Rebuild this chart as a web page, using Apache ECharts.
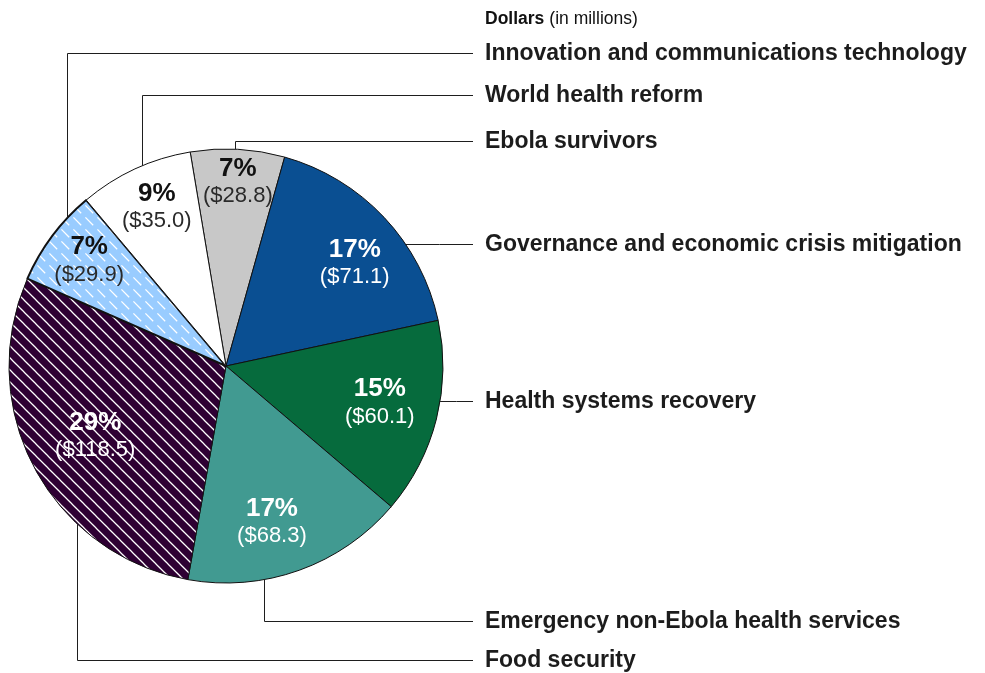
<!DOCTYPE html>
<html>
<head>
<meta charset="utf-8">
<script src="https://cdn.jsdelivr.net/npm/echarts@6/dist/echarts.min.js"></script>
<style>
  html, body { margin: 0; padding: 0; background: #ffffff; }
  #chart { width: 985px; height: 673px; }
</style>
</head>
<body>
<div id="chart"></div>
<script>
// Funding by area, clockwise from the top of the pie
const categories = [
  'Ebola survivors',
  'Governance and economic crisis mitigation',
  'Health systems recovery',
  'Emergency non-Ebola health services',
  'Food security',
  'Innovation and communications technology',
  'World health reform'
];
const dollars = [28.8, 71.1, 60.1, 68.3, 118.5, 29.9, 35.0];   // millions of dollars
const percents = [7, 17, 15, 17, 29, 7, 9];                     // share of total

// ---- layout and styling ----
const FONT = '"Liberation Sans", Arial, Helvetica, sans-serif';
const CX = 226, CY = 366, R = 217;
const START_ANGLE = 99.5;
const labelRadius = [185, 165, 158, 162, 148, 173, 174];   // distance of value labels from centre
const labelTurn = [0.6, 4.6, -0.8, 3.3, 0, 0.8, 1.3];       // clockwise nudge from mid-angle, degrees
const darkText = [true, false, false, false, false, true, true];
const rowY = [141, 244, 401, 621, 660, 53, 95];             // name rows on the right
const elbowX = [235, null, null, 264, 77, 67, 142];         // vertical leader position (null = straight across)
const LINE_END_X = 473, NAME_X = 485;

// diagonal "\" hatch tile; optional dash along each stroke
function hatch(bg, size, lineWidth, dash) {
  const c = document.createElement('canvas');
  c.width = c.height = size;
  const g = c.getContext('2d');
  g.fillStyle = bg;
  g.fillRect(0, 0, size, size);
  g.strokeStyle = '#ffffff';
  g.lineWidth = lineWidth;
  g.lineCap = 'butt';
  const s2 = Math.SQRT2;
  if (!dash) {
    for (const o of [-size, 0, size]) {
      g.beginPath();
      g.moveTo(o - 2, -2);
      g.lineTo(o + size + 2, size + 2);
      g.stroke();
    }
  } else {
    const [a, b] = dash;   // dash start/end along the diagonal, in px
    for (const k of [-1, 0, 1]) {
      g.beginPath();
      g.moveTo(a / s2 + k * size, a / s2 + k * size);
      g.lineTo(b / s2 + k * size, b / s2 + k * size);
      g.stroke();
    }
  }
  return { image: c, repeat: 'repeat' };
}

const fills = [
  '#c8c8c8',
  '#0a4f92',
  '#066b3d',
  '#419a91',
  hatch('#2e0033', 12, 1.25),
  hatch('#99ccff', 12, 1.3, [2, 13]),
  '#ffffff'
];

const chart = echarts.init(document.getElementById('chart'), null, { renderer: 'canvas' });

const valueSeries = {
  type: 'pie',
  center: [CX, CY],
  radius: R,
  startAngle: START_ANGLE,
  clockwise: true,
  silent: true,
  animation: false,
  avoidLabelOverlap: false,
  itemStyle: { borderColor: '#111111', borderWidth: 1 },
  data: categories.map((name, i) => ({
    name,
    value: dollars[i],
    itemStyle: { color: fills[i], borderWidth: i === 5 ? 2 : 1 }
  })),
  label: {
    show: true,
    position: 'inside',
    fontFamily: FONT,
    formatter: p => {
      const dark = darkText[p.dataIndex];
      return '{' + (dark ? 'pd' : 'pl') + '|' + percents[p.dataIndex] + '%}\n' +
             '{' + (dark ? 'dd' : 'dl') + '|($' + p.value.toFixed(1) + ')}';
    },
    rich: {
      pd: { fontFamily: FONT, fontSize: 26, fontWeight: 'bold', color: '#111111', lineHeight: 29, align: 'center' },
      dd: { fontFamily: FONT, fontSize: 22, color: '#2a2a2a', lineHeight: 26, align: 'center' },
      pl: { fontFamily: FONT, fontSize: 26, fontWeight: 'bold', color: '#ffffff', lineHeight: 29, align: 'center' },
      dl: { fontFamily: FONT, fontSize: 22, color: '#ffffff', lineHeight: 26, align: 'center' }
    }
  },
  labelLine: { show: false },
  labelLayout: p => {
    // push the default inside label outward along its slice, then turn it slightly
    const r = p.labelRect;
    const mx = r.x + r.width / 2 - CX;
    const my = r.y + r.height / 2 - CY;
    const a = Math.atan2(my, mx) + labelTurn[p.dataIndex] * Math.PI / 180;
    const d = labelRadius[p.dataIndex];
    return { x: CX + d * Math.cos(a), y: CY + d * Math.sin(a), align: 'center', verticalAlign: 'middle' };
  }
};

// transparent overlay carrying the category names and their leader lines
const nameSeries = {
  type: 'pie',
  center: [CX, CY],
  radius: R,
  startAngle: START_ANGLE,
  clockwise: true,
  silent: true,
  animation: false,
  avoidLabelOverlap: false,
  z: 3,
  itemStyle: { color: 'rgba(0,0,0,0)', borderWidth: 0 },
  data: categories.map((name, i) => ({ name, value: dollars[i] })),
  label: {
    show: true,
    position: 'outside',
    formatter: '{b}',
    fontFamily: FONT,
    fontSize: 23,
    fontWeight: 'bold',
    color: '#1c1c1c'
  },
  labelLine: { show: true, smooth: false, lineStyle: { color: '#1e1e1e', width: 1 } },
  labelLayout: p => {
    const i = p.dataIndex;
    const y = rowY[i] + 0.5;
    const ex = elbowX[i];
    let pts;
    if (ex == null) {
      const x0 = CX + Math.sqrt(R * R - (y - CY) * (y - CY));
      pts = [[x0, y], [(x0 + LINE_END_X) / 2, y], [LINE_END_X, y]];
    } else {
      const x = ex + 0.5;
      const d = Math.sqrt(R * R - (x - CX) * (x - CX));
      const y0 = y < CY ? CY - d : CY + d;
      pts = [[x, y0], [x, y], [LINE_END_X, y]];
    }
    return { x: NAME_X, y: rowY[i] + 1, align: 'left', verticalAlign: 'middle', labelLinePoints: pts };
  }
};

chart.setOption({
  backgroundColor: '#ffffff',
  animation: false,
  title: {
    text: '{b|Dollars} {n|(in millions)}',
    left: 485,
    top: 10,
    padding: 0,
    textStyle: {
      fontWeight: 'normal',
      rich: {
        b: { fontFamily: FONT, fontSize: 17.5, fontWeight: 'bold', color: '#111111' },
        n: { fontFamily: FONT, fontSize: 17.5, fontWeight: 'normal', color: '#111111' }
      }
    }
  },
  series: [valueSeries, nameSeries]
});
</script>
</body>
</html>
